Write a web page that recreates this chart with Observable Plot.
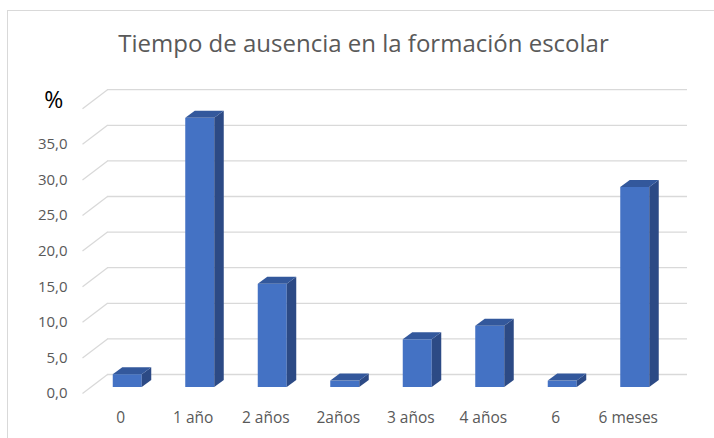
<!DOCTYPE html>
<html>
<head>
<meta charset="utf-8">
<script src="https://cdn.jsdelivr.net/npm/d3@7"></script>
<script src="https://cdn.jsdelivr.net/npm/@observablehq/plot@0.6"></script>
<style>
  html, body { margin: 0; padding: 0; background: #fff; }
  #wrap { position: relative; width: 714px; height: 438px; overflow: hidden; background: #fff; }
  #frame { position: absolute; left: 7px; top: 10px; width: 800px; height: 500px;
           border-top: 1.5px solid #d9d9d9; border-left: 1.5px solid #d9d9d9; }
  #title { position: absolute; left: 0; top: 30.5px; width: 727px; text-align: center;
           font-family: "Open Sans", sans-serif; font-size: 24px; line-height: 24px; color: #595959; white-space: nowrap; }
  #chart { position: absolute; left: 0; top: 0; }
</style>
</head>
<body>
<div id="wrap">
  <div id="frame"></div>
  <div id="chart"></div>
  <div id="title">Tiempo de ausencia en la formación escolar</div>
</div>
<script>
const categories = ["0", "1 año", "2 años", "2años", "3 años", "4 años", "6", "6 meses"];
const values = [1.8, 37.8, 14.5, 0.9, 6.7, 8.6, 0.9, 28.1];
const gridTicks = [0, 5, 10, 15, 20, 25, 30, 35, 40];
const labelTicks = [0, 5, 10, 15, 20, 25, 30, 35];

const W = 714, H = 438;
const mL = 91, mR = 43, mT = 102.2, mB = 51;
const xDomain = [-0.5, categories.length - 0.5];
const yDomain = [0, 40];
const kx = (W - mL - mR) / (xDomain[1] - xDomain[0]); // px per x unit
const ky = (H - mT - mB) / (yDomain[1] - yDomain[0]); // px per y unit

// depth of the floor / walls (px) and of each bar (px)
const floorDX = 25, floorDY = 19;
const barDX = 9.5, barDY = 7;
const halfW = 0.2;

const bars = categories.map((c, i) => ({i, c, v: values[i]}));

const bdx = barDX / kx, bdy = barDY / ky;
const sidePts = bars.flatMap(b => [
  {id: b.i, x: b.i + halfW, y1: 0, y2: b.v},
  {id: b.i, x: b.i + halfW + bdx, y1: bdy, y2: b.v + bdy}
]);
const topPts = bars.flatMap(b => [
  {id: b.i, x: b.i - halfW, y1: b.v, y2: b.v},
  {id: b.i, x: b.i - halfW + bdx, y1: b.v, y2: b.v + bdy},
  {id: b.i, x: b.i + halfW, y1: b.v, y2: b.v + bdy},
  {id: b.i, x: b.i + halfW + bdx, y1: b.v + bdy, y2: b.v + bdy}
]);

const grid = "#d9d9d9";
const chart = Plot.plot({
  width: W, height: H,
  marginLeft: mL, marginRight: mR, marginTop: mT, marginBottom: mB,
  style: {fontFamily: "'Open Sans', sans-serif", fontSize: "15px", color: "#595959", background: "transparent"},
  x: {domain: xDomain},
  y: {domain: yDomain},
  marks: [
    // back wall gridlines
    Plot.ruleY(gridTicks, {y: d => d, x1: () => xDomain[0], x2: () => xDomain[1],
      dx: floorDX - 9, dy: -(floorDY - 6), stroke: grid, strokeWidth: 1.3}),
    // side wall diagonals
    Plot.link(gridTicks, {x1: () => xDomain[0], y1: d => d,
      x2: () => xDomain[0] + floorDX / kx, y2: d => d + floorDY / ky,
      dx: -9, dy: 6, stroke: grid, strokeWidth: 1.3}),
    // bar front faces
    Plot.rect(bars, {x1: d => d.i - halfW, x2: d => d.i + halfW, y1: () => 0, y2: d => d.v, fill: "#4472C4"}),
    // bar side faces
    Plot.area(sidePts, {x1: "x", y1: "y1", y2: "y2", z: "id", fill: "#2C4A85"}),
    // bar top faces
    Plot.area(topPts, {x1: "x", y1: "y1", y2: "y2", z: "id", fill: "#33589C"}),
    Plot.axisX(d3.range(categories.length), {tickFormat: i => categories[i], tickSize: 0,
      tickPadding: 24.4, dx: -7, label: null, fontSize: 15.5}),
    Plot.axisY(labelTicks, {tickFormat: d => d.toFixed(1).replace(".", ","), tickSize: 0,
      tickPadding: 24, dy: 6, label: null, fontSize: 15}),
    Plot.text(["%"], {x: () => xDomain[0], y: () => yDomain[1], text: d => d,
      dx: -28.3, dy: -2, textAnchor: "end", fontSize: 23, fill: "#000"})
  ]
});
document.getElementById("chart").appendChild(chart);
</script>
</body>
</html>
